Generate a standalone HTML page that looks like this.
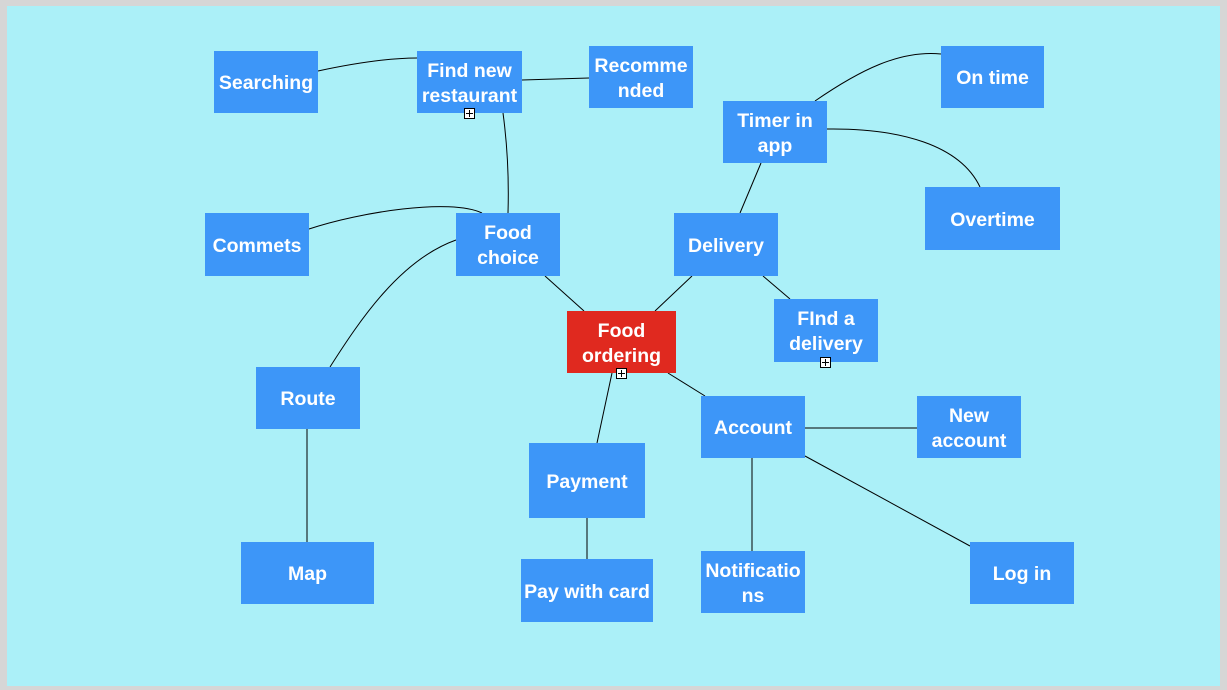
<!DOCTYPE html>
<html><head><style>
body{margin:0;width:1227px;height:690px;overflow:hidden;background:#d6d6d6;font-family:"Liberation Sans",Arial,sans-serif}
#bg{position:absolute;left:7px;top:6px;width:1213px;height:680px;background:#abf0f8}
.n{position:absolute;box-sizing:border-box;padding-top:3px;background:#3d96f8;color:#fff;font-weight:bold;font-size:19.5px;line-height:25px;display:flex;align-items:center;justify-content:center;text-align:center;white-space:nowrap}
.r{background:#e0291f}
.p{position:absolute;width:9px;height:9px;border:1px solid #000;background:#fff}
.p:before{content:"";position:absolute;left:1px;top:4px;width:7px;height:1px;background:#000}
.p:after{content:"";position:absolute;left:4px;top:1px;width:1px;height:7px;background:#000}
svg{position:absolute;left:0;top:0}
</style></head><body>
<div id="bg"></div>
<svg width="1227" height="690" fill="none" stroke="#000" stroke-width="1">
<path d="M318,71 C360,62 390,58 417,58"/>
<path d="M522,80 L589,78"/>
<path d="M503,113 C508,150 509,180 508,213"/>
<path d="M309,229 C360,212 450,198 482,213"/>
<path d="M456,240 C400,260 360,320 330,367"/>
<path d="M545,276 L584,311"/>
<path d="M692,276 L655,311"/>
<path d="M740,213 L761,163"/>
<path d="M763,276 L790,299"/>
<path d="M815,101 C860,70 900,50 941,54"/>
<path d="M827,129 C900,128 960,145 980,187"/>
<path d="M612,373 L597,443"/>
<path d="M668,373 L705,396"/>
<path d="M805,428 L917,428"/>
<path d="M752,458 L752,551"/>
<path d="M805,456 L970,546"/>
<path d="M307,429 L307,542"/>
<path d="M587,518 L587,559"/>
</svg>
<div class="n" style="left:214px;top:51px;width:104px;height:62px">Searching</div>
<div class="n" style="left:417px;top:51px;width:105px;height:62px">Find new<br>restaurant</div>
<div class="n" style="left:589px;top:46px;width:104px;height:62px">Recomme<br>nded</div>
<div class="n" style="left:941px;top:46px;width:103px;height:62px">On time</div>
<div class="n" style="left:723px;top:101px;width:104px;height:62px">Timer in<br>app</div>
<div class="n" style="left:925px;top:187px;width:135px;height:63px">Overtime</div>
<div class="n" style="left:205px;top:213px;width:104px;height:63px">Commets</div>
<div class="n" style="left:456px;top:213px;width:104px;height:63px">Food<br>choice</div>
<div class="n" style="left:674px;top:213px;width:104px;height:63px">Delivery</div>
<div class="n" style="left:774px;top:299px;width:104px;height:63px">FInd a<br>delivery</div>
<div class="n r" style="left:567px;top:311px;width:109px;height:62px">Food<br>ordering</div>
<div class="n" style="left:256px;top:367px;width:104px;height:62px">Route</div>
<div class="n" style="left:701px;top:396px;width:104px;height:62px">Account</div>
<div class="n" style="left:917px;top:396px;width:104px;height:62px">New<br>account</div>
<div class="n" style="left:529px;top:443px;width:116px;height:75px">Payment</div>
<div class="n" style="left:241px;top:542px;width:133px;height:62px">Map</div>
<div class="n" style="left:521px;top:559px;width:132px;height:63px">Pay with card</div>
<div class="n" style="left:701px;top:551px;width:104px;height:62px">Notificatio<br>ns</div>
<div class="n" style="left:970px;top:542px;width:104px;height:62px">Log in</div>
<div class="p" style="left:464px;top:108px"></div>
<div class="p" style="left:616px;top:368px"></div>
<div class="p" style="left:820px;top:357px"></div>
</body></html>
